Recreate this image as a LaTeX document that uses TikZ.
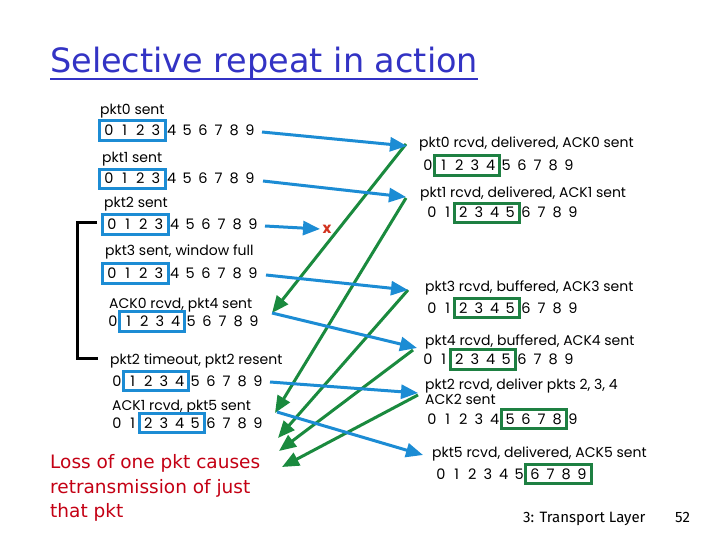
\documentclass[tikz,border=0pt]{standalone}
\usepackage{fontspec}
\setmainfont{Poppins}
\newfontfamily\comicf{DejaVu Sans}
\newfontfamily\footf{Fira Sans}
\usetikzlibrary{arrows.meta,fit}
\definecolor{ttlblue}{RGB}{51,51,196}
\definecolor{pktblue}{RGB}{28,140,212}
\definecolor{ackgreen}{RGB}{26,138,62}
\definecolor{boxgreen}{RGB}{30,128,66}
\definecolor{lossred}{RGB}{196,0,20}
\definecolor{xred}{RGB}{210,50,30}
\tikzset{
  lbl/.style={anchor=base west,inner sep=0pt,font=\fontsize{14bp}{16bp}\selectfont},
  digit/.style={anchor=base,inner sep=0pt,text height=10bp,text depth=0pt,minimum width=11bp,font=\fontsize{14.5bp}{16bp}\selectfont},
  bbox/.style={draw=pktblue,line width=3bp,inner xsep=3.5bp,inner ysep=4.5bp},
  gbox/.style={draw=boxgreen,line width=3bp,inner xsep=3.5bp,inner ysep=4.5bp},
  pkt/.style={draw=pktblue,line width=3bp,-{Triangle[length=17bp,width=14bp]}},
  ack/.style={draw=ackgreen,line width=3bp,-{Triangle[length=17bp,width=14bp]}},
  note/.style={anchor=base west,inner sep=0pt,text=lossred,font=\comicf\fontsize{18.5bp}{22bp}\selectfont},
}
\newcommand{\drow}[3]{%
  \foreach \i in {0,...,9} {\node[digit] (#1-\i) at ({#2+15.65*\i},#3) {\i};}}
\begin{document}
\begin{tikzpicture}[x=1bp,y=-1bp]
\useasboundingbox[fill=white] (0,0) rectangle (720,540);
% title
\node[anchor=base west,inner sep=0pt,text=ttlblue,font=\comicf\fontsize{33.5bp}{38bp}\selectfont] (title) at (50,73) {Selective repeat in action};
\draw[ttlblue,line width=2bp] (title.base west) ++(0,6) coordinate (ul1) -- (ul1 -| title.base east);
% sender side
\node[lbl] (l1) at (100,115) {pkt0 sent};
\drow{d1}{109}{135.5}
\node[bbox,fit=(d1-0)(d1-3)] (bx1) {};
\node[lbl] (l2) at (102,163) {pkt1 sent};
\drow{d2}{109}{184}
\node[bbox,fit=(d2-0)(d2-3)] (bx2) {};
\node[lbl] (l3) at (104,208) {pkt2 sent};
\drow{d3}{112}{229.5}
\node[bbox,fit=(d3-0)(d3-3)] (bx3) {};
\node[lbl] (l4) at (105,256) {pkt3 sent, window full};
\drow{d4}{112}{278.5}
\node[bbox,fit=(d4-0)(d4-3)] (bx4) {};
\node[lbl] (l5) at (109,308) {ACK0 rcvd, pkt4 sent};
\drow{d5}{113}{326.5}
\node[bbox,fit=(d5-1)(d5-4)] (bx5) {};
\node[lbl] (l6) at (110,364.5) {pkt2 timeout, pkt2 resent};
\drow{d6}{117}{386}
\node[bbox,fit=(d6-1)(d6-4)] (bx6) {};
\node[lbl] (l7) at (112,410.5) {ACK1 rcvd, pkt5 sent};
\drow{d7}{117}{428}
\node[bbox,fit=(d7-2)(d7-5)] (bx7) {};
% timeout bracket
\coordinate (brt) at (97,223);
\coordinate (brb) at (98,358);
\draw[black,line width=3bp] (brt) -- (77,223) -- (77,358) -- (brb);
% receiver side
\node[lbl] (r1) at (419,148) {pkt0 rcvd, delivered, ACK0 sent};
\drow{e1}{428}{170.5}
\node[gbox,fit=(e1-1)(e1-4)] (gx1) {};
\node[lbl] (r2) at (420,197.5) {pkt1 rcvd, delivered, ACK1 sent};
\drow{e2}{432}{218}
\node[gbox,fit=(e2-2)(e2-5)] (gx2) {};
\node[lbl] (r3) at (425,291.5) {pkt3 rcvd, buffered, ACK3 sent};
\drow{e3}{432}{313}
\node[gbox,fit=(e3-2)(e3-5)] (gx3) {};
\node[lbl] (r4) at (425,345) {pkt4 rcvd, buffered, ACK4 sent};
\drow{e4}{428}{364.5}
\node[gbox,fit=(e4-2)(e4-5)] (gx4) {};
\node[lbl] (r5) at (425,389.5) {pkt2 rcvd, deliver pkts 2, 3, 4};
\node[lbl] (r5b) at (425,404.5) {ACK2 sent};
\drow{e5}{432}{424}
\node[gbox,fit=(e5-5)(e5-8)] (gx5) {};
\node[lbl] (r6) at (432,457.5) {pkt5 rcvd, delivered, ACK5 sent};
\drow{e6}{441}{479}
\node[gbox,fit=(e6-6)(e6-9)] (gx6) {};
% arrow end points
\coordinate (s1) at (262,132);  \coordinate (t1) at (407,146);
\coordinate (s2) at (263,181);  \coordinate (t2) at (406,197);
\coordinate (s3) at (265,226);  \coordinate (t3) at (320,229);
\coordinate (s4) at (266,275);  \coordinate (t4) at (408,290);
\coordinate (s5) at (272,313);  \coordinate (t5) at (417,348);
\coordinate (s6) at (270,382);  \coordinate (t6) at (418,393);
\coordinate (s7) at (277,412);  \coordinate (t7) at (423,455);
\coordinate (a1) at (406,144);  \coordinate (k1) at (272,313);
\coordinate (a2) at (406,198);  \coordinate (k2) at (275,413);
\coordinate (a3) at (408,290);  \coordinate (k3) at (278,438);
\coordinate (a4) at (413,350);  \coordinate (k4) at (279,451);
\coordinate (a5) at (418,395);  \coordinate (k5) at (282,467);
% ACKs (green)
\draw[ack] (a1) -- (k1);
\draw[ack] (a2) -- (k2);
\draw[ack] (a3) -- (k3);
\draw[ack] (a4) -- (k4);
\draw[ack] (a5) -- (k5);
% packets (blue)
\draw[pkt] (s1) -- (t1);
\draw[pkt] (s2) -- (t2);
\draw[pkt] (s3) -- (t3);
\draw[pkt] (s4) -- (t4);
\draw[pkt] (s5) -- (t5);
\draw[pkt] (s6) -- (t6);
\draw[pkt] (s7) -- (t7);
\node[text=xred,inner sep=0pt,font=\bfseries\fontsize{15bp}{16bp}\selectfont] (lost) at (327,229) {x};
% loss note
\node[note] (n1) at (50,468) {Loss of one pkt causes};
\node[note] (n2) at (50,493) {retransmission of just};
\node[note] (n3) at (50,517) {that pkt};
% footer
\node[anchor=base west,inner sep=0pt,font=\footf\fontsize{15bp}{18bp}\selectfont] (foot) at (523,522) {3: Transport Layer};
\node[anchor=base west,inner sep=0pt,font=\footf\fontsize{15bp}{18bp}\selectfont] (page) at (675,522) {52};
\end{tikzpicture}
\end{document}
